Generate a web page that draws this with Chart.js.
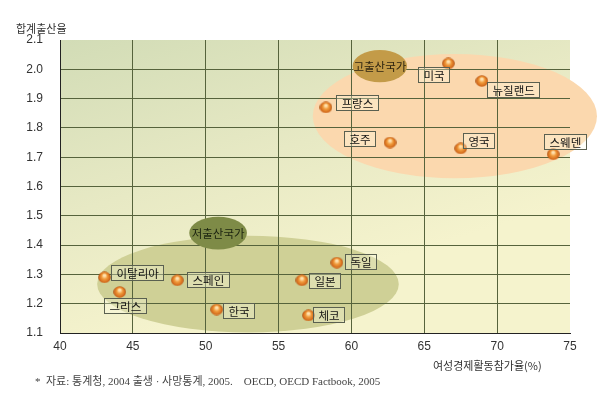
<!DOCTYPE html>
<html>
<head>
<meta charset="utf-8">
<script src="https://cdn.jsdelivr.net/npm/chart.js@4.4.1/dist/chart.umd.min.js"></script>
<style>
  html, body { margin: 0; padding: 0; background: #fff; }
  #wrap { width: 601px; height: 401px; }
</style>
</head>
<body>
<div id="wrap"><canvas id="chart" width="601" height="401"></canvas></div>
<script>
// data
const countries     = ['미국', '뉴질랜드', '프랑스', '호주', '영국', '스웨덴', '이탈리아', '그리스', '스페인', '한국', '독일', '일본', '체코'];
const participation = [66.65, 68.95, 58.25, 62.65, 67.5, 73.85, 43.05, 44.1, 48.05, 50.75, 59.0, 56.6, 57.05];
const fertility     = [2.02, 1.96, 1.87, 1.75, 1.73, 1.71, 1.29, 1.24, 1.28, 1.18, 1.34, 1.28, 1.16];
const xTicks = [40, 45, 50, 55, 60, 65, 70, 75];
const yTicks = [1.1, 1.2, 1.3, 1.4, 1.5, 1.6, 1.7, 1.8, 1.9, 2.0, 2.1];

// label box offsets from each point, in pixels
const labelOffsets = [[-30, 4], [5, 1], [10, -12], [-46, -12], [2, -15], [-9, -20],
                      [7, -12], [-16, 6], [10, -8], [6, -7], [8, -9], [7, -7], [5, -8]];

const KR = '"Noto Sans CJK KR", "Noto Sans", sans-serif';

// orange ball used for every point
function makeBall() {
    const c = document.createElement('canvas');
    c.width = 13; c.height = 12;
    const g = c.getContext('2d');
    const rg = g.createRadialGradient(6.5, 4, 1, 6.5, 6.5, 6.5);
    rg.addColorStop(0, '#ffe2b0');
    rg.addColorStop(0.35, '#f09a3a');
    rg.addColorStop(0.8, '#d0661a');
    rg.addColorStop(1, '#9a4a10');
    g.fillStyle = rg;
    g.beginPath();
    g.ellipse(6.5, 6, 6.3, 5.8, 0, 0, Math.PI * 2);
    g.fill();
    return c;
}

function ellipse(ctx, x, y, cx, cy, rx, ry, color) {
    const px = x.getPixelForValue(cx), py = y.getPixelForValue(cy);
    const prx = Math.abs(x.getPixelForValue(cx + rx) - px);
    const pry = Math.abs(y.getPixelForValue(cy + ry) - py);
    ctx.fillStyle = color;
    ctx.beginPath();
    ctx.ellipse(px, py, prx, pry, 0, 0, Math.PI * 2);
    ctx.fill();
    return [px, py];
}

const decor = {
    id: 'decor',
    beforeDraw(chart) {
        const { ctx, chartArea: a, scales: { x, y } } = chart;
        ctx.save();
        const g = ctx.createLinearGradient(a.left, a.top, a.left + 90, a.bottom);
        g.addColorStop(0, '#d2dcb6');
        g.addColorStop(0.55, '#e7e9c4');
        g.addColorStop(1, '#f5f3cd');
        ctx.fillStyle = g;
        ctx.fillRect(a.left, a.top, a.width, a.height);

        // group areas
        ellipse(ctx, x, y, 67.1, 1.84, 9.75, 0.212, '#fbd8ae');
        ctx.save();
        ctx.beginPath();
        ctx.rect(a.left, a.top, a.width, a.height);
        ctx.clip();
        ellipse(ctx, x, y, 52.9, 1.267, 10.35, 0.165, '#cfd096');
        ctx.restore();
        ctx.restore();
    },
    beforeDatasetsDraw(chart) {
        const { ctx, scales: { x, y } } = chart;
        ctx.save();
        ctx.font = '11.5px ' + KR;
        ctx.textAlign = 'center';
        ctx.textBaseline = 'middle';
        let p = ellipse(ctx, x, y, 61.95, 2.011, 1.87, 0.055, '#c39b48');
        ctx.fillStyle = '#2e2410';
        ctx.fillText('고출산국가', p[0], p[1] + 1);
        p = ellipse(ctx, x, y, 50.85, 1.441, 1.98, 0.056, '#7e8b47');
        ctx.fillStyle = '#1c2410';
        ctx.fillText('저출산국가', p[0], p[1] + 1);
        ctx.restore();
    },
    afterDatasetsDraw(chart) {
        const { ctx } = chart;
        const pts = chart.getDatasetMeta(0).data;
        ctx.save();
        ctx.font = '11.5px ' + KR;
        ctx.textBaseline = 'middle';
        countries.forEach((name, i) => {
            const bx = Math.round(pts[i].x + labelOffsets[i][0]) + 0.5;
            const by = Math.round(pts[i].y + labelOffsets[i][1]) + 0.5;
            const w = Math.round(ctx.measureText(name).width + 10);
            ctx.fillStyle = 'rgba(255,255,235,0.3)';
            ctx.fillRect(bx, by, w, 15);
            ctx.strokeStyle = '#5a6050';
            ctx.lineWidth = 1;
            ctx.strokeRect(bx, by, w, 15);
            ctx.fillStyle = '#111';
            ctx.fillText(name, bx + 5, by + 8);
        });
        ctx.restore();
    },
    afterDraw(chart) {
        const { ctx } = chart;
        ctx.save();
        ctx.fillStyle = '#333';
        ctx.textBaseline = 'middle';
        ctx.font = '11px ' + KR;
        ctx.textAlign = 'left';
        ctx.fillText('합계출산율', 16, 29);
        ctx.fillText('여성경제활동참가율(%)', 433, 366);
        ctx.font = '11px "Liberation Serif", "Noto Sans CJK KR", serif';
        ctx.fillStyle = '#444';
        ctx.fillText('*  자료: 통계청, 2004 출생 · 사망통계, 2005.    OECD, OECD Factbook, 2005', 35, 382);
        ctx.restore();
    }
};

new Chart(document.getElementById('chart'), {
    type: 'scatter',
    data: {
        datasets: [{
            data: participation.map((v, i) => ({ x: v, y: fertility[i] })),
            pointStyle: makeBall(),
            pointRadius: 6,
            pointHoverRadius: 6
        }]
    },
    options: {
        responsive: false,
        animation: false,
        devicePixelRatio: 1,
        layout: { padding: { left: 0, right: 31, top: 40, bottom: 0 } },
        plugins: { legend: { display: false }, tooltip: { enabled: false } },
        scales: {
            x: {
                type: 'linear', min: 40, max: 75,
                afterFit: s => { s.height = 68; },
                afterBuildTicks: s => { s.ticks = xTicks.map(v => ({ value: v })); },
                grid: {
                    drawTicks: false,
                    lineWidth: 1,
                    color: c => (c.tick && c.tick.value === 75) ? 'rgba(0,0,0,0)' : '#56633c'
                },
                border: { display: true, color: '#222', width: 1 },
                ticks: { padding: 6, color: '#333', font: { family: '"Liberation Sans", sans-serif', size: 12 } }
            },
            y: {
                type: 'linear', min: 1.1, max: 2.1,
                afterFit: s => { s.width = 60; },
                afterBuildTicks: s => { s.ticks = yTicks.map(v => ({ value: v })); },
                grid: {
                    drawTicks: false,
                    lineWidth: 1,
                    color: c => (c.tick && Math.abs(c.tick.value - 2.1) < 1e-6) ? 'rgba(0,0,0,0)' : '#56633c'
                },
                border: { display: true, color: '#222', width: 1 },
                ticks: {
                    padding: 17, color: '#333',
                    font: { family: '"Liberation Sans", sans-serif', size: 12 },
                    callback: v => v.toFixed(1)
                }
            }
        }
    },
    plugins: [decor]
});
</script>
</body>
</html>
